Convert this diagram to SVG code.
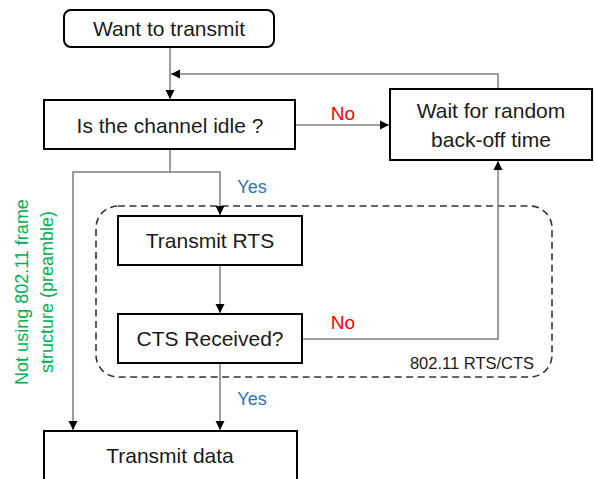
<svg xmlns="http://www.w3.org/2000/svg" width="595" height="479" viewBox="0 0 595 479">
<style>
.box{fill:#fff;stroke:#000;stroke-width:2}
.t{font-family:"Liberation Sans",Arial,sans-serif;font-size:21px;fill:#1a1a1a;text-anchor:middle}
.c{fill:none;stroke:#7f7f7f;stroke-width:1.5}
.no{font-family:"Liberation Sans",Arial,sans-serif;font-size:19px;fill:#ff0000;text-anchor:middle}
.yes{font-family:"Liberation Sans",Arial,sans-serif;font-size:18px;fill:#2e75b6;text-anchor:middle}
.g{font-family:"Liberation Sans",Arial,sans-serif;font-size:18px;fill:#00b050;text-anchor:middle}
</style>
<defs>
<marker id="ah" markerWidth="10" markerHeight="10" refX="9" refY="5" orient="auto" markerUnits="userSpaceOnUse">
<path d="M0,0.5 L9,5 L0,9.5 Z" fill="#000"/>
</marker>
</defs>
<rect x="0" y="0" width="595" height="479" fill="#fff"/>

<g id="group-rtscts">
<rect x="96" y="206" width="456" height="171" rx="22" fill="none" stroke="#333" stroke-width="1.6" stroke-dasharray="7,4.5"/>
<text x="472" y="369" font-family="Liberation Sans,Arial,sans-serif" font-size="16.5" fill="#1a1a1a" text-anchor="middle">802.11 RTS/CTS</text>
</g>

<g id="connectors">
<path class="c" d="M170,47 V99" marker-end="url(#ah)"/>
<path class="c" d="M498,89 V74 H171" marker-end="url(#ah)"/>
<path class="c" d="M295,125 H389" marker-end="url(#ah)"/>
<path class="c" d="M170,149 V172 H73 V430" marker-end="url(#ah)"/>
<path class="c" d="M170,172 H220 V215" marker-end="url(#ah)"/>
<path class="c" d="M220,265 V313" marker-end="url(#ah)"/>
<path class="c" d="M302,339 H498 V161" marker-end="url(#ah)"/>
<path class="c" d="M220,363 V430" marker-end="url(#ah)"/>
<text class="no" x="343" y="120">No</text>
<text class="no" x="343" y="329">No</text>
<text class="yes" x="252" y="193">Yes</text>
<text class="yes" x="252" y="405">Yes</text>
</g>

<g id="want">
<rect class="box" x="64" y="10" width="210" height="37" rx="7"/>
<text class="t" x="169" y="36">Want to transmit</text>
</g>
<g id="idle">
<rect class="box" x="44" y="100" width="251" height="49"/>
<text class="t" x="170" y="133">Is the channel idle ?</text>
</g>
<g id="wait">
<rect class="box" x="390" y="89" width="202" height="71"/>
<text class="t" x="491" y="118">Wait for random</text>
<text class="t" x="491" y="147">back-off time</text>
</g>
<g id="rts">
<rect class="box" x="118" y="216" width="184" height="49"/>
<text class="t" x="210" y="248">Transmit RTS</text>
</g>
<g id="cts">
<rect class="box" x="118" y="314" width="184" height="49"/>
<text class="t" x="210" y="346">CTS Received?</text>
</g>
<g id="data">
<rect class="box" x="44" y="431" width="253" height="60"/>
<text class="t" x="170" y="463">Transmit data</text>
</g>
<g id="note">
<text class="g" transform="translate(28,292) rotate(-90)">Not using 802.11 frame</text>
<text class="g" transform="translate(53,292) rotate(-90)">structure (preamble)</text>
</g>
</svg>
